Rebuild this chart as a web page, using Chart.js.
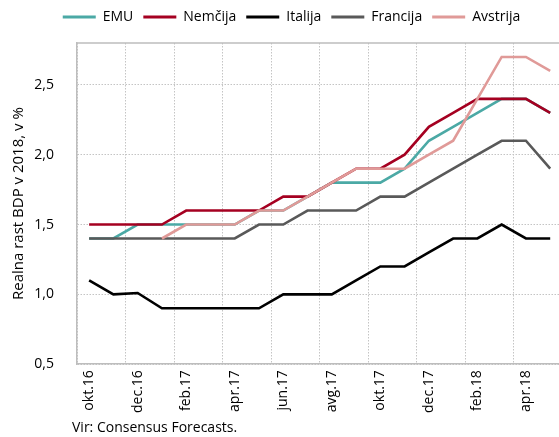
<!DOCTYPE html>
<html>
<head>
<meta charset="utf-8">
<script src="https://cdn.jsdelivr.net/npm/chart.js@4"></script>
<style>
  html, body { margin: 0; padding: 0; background: #fff; overflow: hidden; }
  #wrap { position: relative; width: 559px; height: 437px; overflow: hidden; }
  #source { position: absolute; left: 72px; top: 417px; font: 14px "Open Sans", sans-serif; color: #000; }
</style>
</head>
<body>
<div id="wrap">
  <canvas id="graph" width="573" height="437"></canvas>
  <div id="source">Vir: Consensus Forecasts.</div>
</div>
<script>
const months = ['okt.16', 'nov.16', 'dec.16', 'jan.17', 'feb.17', 'mar.17', 'apr.17', 'maj.17', 'jun.17', 'jul.17',
    'avg.17', 'sep.17', 'okt.17', 'nov.17', 'dec.17', 'jan.18', 'feb.18', 'mar.18', 'apr.18', 'maj.18'];
const emu      = [1.4, 1.4, 1.5, 1.5, 1.5, 1.5, 1.5, 1.6, 1.6, 1.7, 1.8, 1.8, 1.8, 1.9, 2.1, 2.2, 2.3, 2.4, 2.4, 2.3];
const nemcija  = [1.5, 1.5, 1.5, 1.5, 1.6, 1.6, 1.6, 1.6, 1.7, 1.7, 1.8, 1.9, 1.9, 2.0, 2.2, 2.3, 2.4, 2.4, 2.4, 2.3];
const italija  = [1.1, 1.0, 1.01, 0.9, 0.9, 0.9, 0.9, 0.9, 1.0, 1.0, 1.0, 1.1, 1.2, 1.2, 1.3, 1.4, 1.4, 1.5, 1.4, 1.4];
const francija = [1.4, 1.4, 1.4, 1.4, 1.4, 1.4, 1.4, 1.5, 1.5, 1.6, 1.6, 1.6, 1.7, 1.7, 1.8, 1.9, 2.0, 2.1, 2.1, 1.9];
const avstrija = [null, null, null, 1.4, 1.5, 1.5, 1.5, 1.6, 1.6, 1.7, 1.8, 1.9, 1.9, 1.9, 2.0, 2.1, 2.4, 2.7, 2.7, 2.6];
const yTicks = [0.5, 1.0, 1.5, 2.0, 2.5];

const font = 'Open Sans';
const gridColor = '#c4c4c4';

// top border of the plot area, and a bit more room under the legend
const frame = {
    id: 'frame',
    beforeInit(chart) {
        const fit = chart.legend.fit;
        chart.legend.fit = function () {
            fit.call(this);
            this.height += 9;
        };
    },
    beforeDatasetsDraw(chart) {
        const a = chart.chartArea, ctx = chart.ctx;
        ctx.save();
        ctx.strokeStyle = '#bdbdbd';
        ctx.lineWidth = 1.5;
        ctx.beginPath();
        ctx.moveTo(a.left, a.top);
        ctx.lineTo(a.right, a.top);
        ctx.stroke();
        ctx.restore();
    }
};

function line(label, data, color, order) {
    return {
        label: label,
        data: data,
        borderColor: color,
        backgroundColor: color,
        borderWidth: 2.6,
        pointRadius: 0,
        tension: 0,
        order: order
    };
}

let graph_cont = document.getElementById('graph');
let myChart = new Chart(graph_cont, {
    type: 'line',
    data: {
        labels: months,
        datasets: [
            line('EMU', emu, '#4ba9a5', 4),
            line('Nemčija', nemcija, '#a50021', 3),
            line('Italija', italija, '#000000', 2),
            line('Francija', francija, '#595959', 1),
            line('Avstrija', avstrija, '#e09a98', 0)
        ]
    },
    options: {
        responsive: false,
        animation: false,
        layout: { padding: { top: 0, bottom: 18, left: 10, right: 0 } },
        scales: {
            x: {
                offset: true,
                grid: {
                    offset: true,
                    drawTicks: false,
                    color: ctx => (ctx.index % 2 === 0 && ctx.index < months.length) ? gridColor : 'rgba(0,0,0,0)'
                },
                border: { color: '#bdbdbd', width: 1.5, dash: [1.5, 1.5] },
                ticks: {
                    autoSkip: false,
                    maxRotation: 90,
                    minRotation: 90,
                    padding: 6,
                    color: '#000',
                    font: { family: font, size: 14 },
                    callback: (v, i) => i % 2 === 0 ? months[i] : ''
                }
            },
            y: {
                min: 0.5,
                max: 2.8,
                afterBuildTicks: scale => { scale.ticks = yTicks.map(v => ({ value: v })); },
                afterFit: scale => { scale.width = 67; },
                grid: { drawTicks: false, color: gridColor },
                border: { color: '#bdbdbd', width: 1.5, dash: [1.5, 1.5] },
                ticks: {
                    padding: 23,
                    color: '#000',
                    font: { family: font, size: 14 },
                    callback: v => v.toFixed(1).replace('.', ',')
                },
                title: {
                    display: true,
                    text: 'Realna rast BDP v 2018, v %',
                    color: '#000',
                    font: { family: font, size: 15 },
                    padding: { top: 0, bottom: 0 }
                }
            }
        },
        plugins: {
            legend: {
                labels: {
                    boxWidth: 33,
                    boxHeight: 3,
                    padding: 10,
                    color: '#000',
                    font: { family: font, size: 14 },
                    sort: (a, b) => a.datasetIndex - b.datasetIndex,
                    generateLabels: chart => Chart.defaults.plugins.legend.labels.generateLabels(chart)
                        .map(l => Object.assign(l, { lineWidth: 0 }))
                }
            },
            tooltip: { enabled: false }
        }
    },
    plugins: [frame]
});
</script>
</body>
</html>
